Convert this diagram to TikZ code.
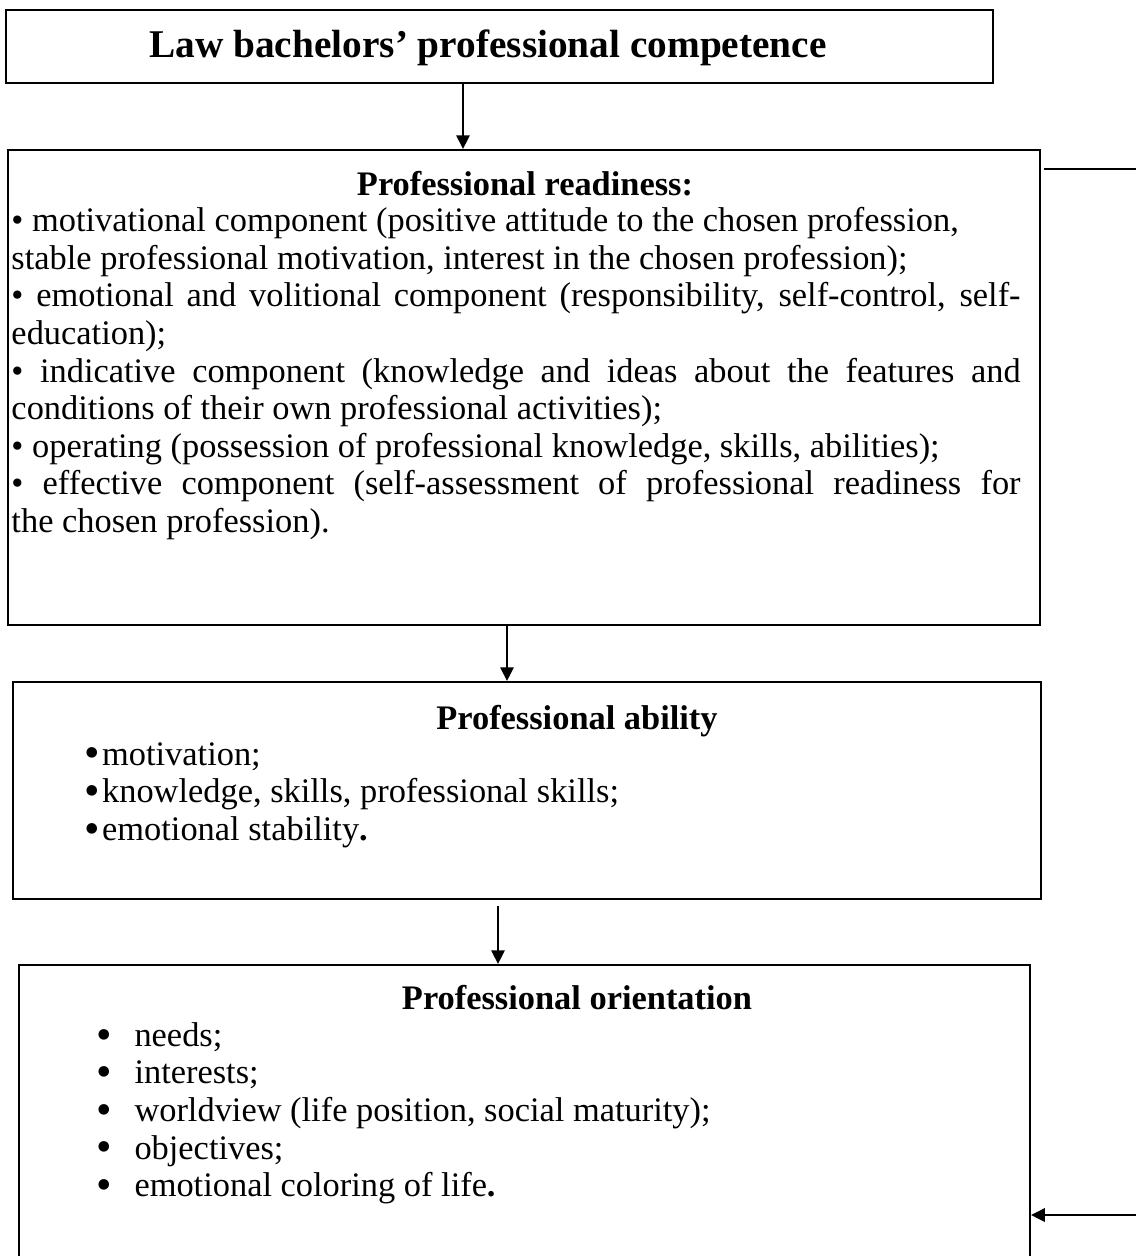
\documentclass[tikz,border=0pt]{standalone}
\usepackage{fontspec}
\setmainfont{Liberation Serif}
\usetikzlibrary{arrows.meta,positioning,fit}

\newcommand{\bigdot}{\smash{\raisebox{-1.1pt}{\fontsize{18}{15}\selectfont •}}}

\tikzset{
  frame/.style={draw, line width=0.8pt, inner sep=0pt},
  link/.style={line width=0.8pt, -{Triangle[length=5.6pt,width=5.4pt]}},
  plain/.style={line width=0.8pt},
  headline/.style={font=\fontsize{14}{15.3}\selectfont\bfseries, inner sep=0pt},
  bodytext/.style={font=\fontsize{14}{15.3}\selectfont, inner sep=0pt, align=left},
}

\begin{document}
\begin{tikzpicture}[x=0.407pt, y=-0.407pt]
  \useasboundingbox (0,0) rectangle (1136,1256);
  \clip (0,0) rectangle (1136,1256);

  % boxes
  \node[frame, fit={(6,10) (993,83)}] (comp) {};
  \node[frame, fit={(8,150) (1040,625)}] (ready) {};
  \node[frame, fit={(13,682) (1041,899)}] (ability) {};
  \node[frame, fit={(19,965) (1030,1300)}] (orient) {};

  % competence
  \node[headline, font=\fontsize{16}{19}\selectfont\bfseries, anchor=base] (comptitle) at (488,57)
    {Law bachelors' professional competence};

  % readiness
  \node[headline, anchor=base] (readytitle) at (525,195) {Professional readiness:};
  \node[bodytext, anchor=north west, text width=410.7pt, align=justify] (readylist) at (11,207)
    {\tolerance=9999
     • motivational component (positive attitude to the chosen profession,\\
     stable professional motivation, interest in the chosen profession);\\
     • emotional and volitional component (responsibility, self-control, self-\linebreak
     education);\\
     • indicative component (knowledge and ideas about the features and\linebreak
     conditions of their own professional activities);\\
     • operating (possession of professional knowledge, skills, abilities);\\
     • effective component (self-assessment of professional readiness for\linebreak
     the chosen profession).};

  % ability
  \node[headline, anchor=base] (abilitytitle) at (577,729) {Professional ability};
  \node[bodytext, anchor=north west] (abilitylist) at (82,742)
    {\makebox[8pt][c]{\bigdot}motivation;\\
     \makebox[8pt][c]{\bigdot}knowledge, skills, professional skills;\\
     \makebox[8pt][c]{\bigdot}emotional stability\textbf{.}};

  % orientation
  \node[headline, anchor=base] (orienttitle) at (577,1009) {Professional orientation};
  \node[bodytext, anchor=north west] (orientlist) at (92,1022)
    {\makebox[9.8pt][c]{\bigdot}\hspace{7.3pt}needs;\\
     \makebox[9.8pt][c]{\bigdot}\hspace{7.3pt}interests;\\
     \makebox[9.8pt][c]{\bigdot}\hspace{7.3pt}worldview (life position, social maturity);\\
     \makebox[9.8pt][c]{\bigdot}\hspace{7.3pt}objectives;\\
     \makebox[9.8pt][c]{\bigdot}\hspace{7.3pt}emotional coloring of life\textbf{.}};

  % arrows
  \draw[link] (463,0 |- comp.south) -- (463,0 |- ready.north);
  \draw[link] (507,0 |- ready.south) -- (507,0 |- ability.north);
  \draw[link] (498,0 |- ability.south) ++(0,6) -- (498,0 |- orient.north);

  % loop ends at the right
  \coordinate (loopout) at (1136,169);
  \coordinate (loopin) at (1136,1215);
  \draw[plain] (ready.east |- loopout) ++(3,0) -- (loopout);
  \draw[link] (loopin) -- (orient.east |- loopin);
\end{tikzpicture}
\end{document}
